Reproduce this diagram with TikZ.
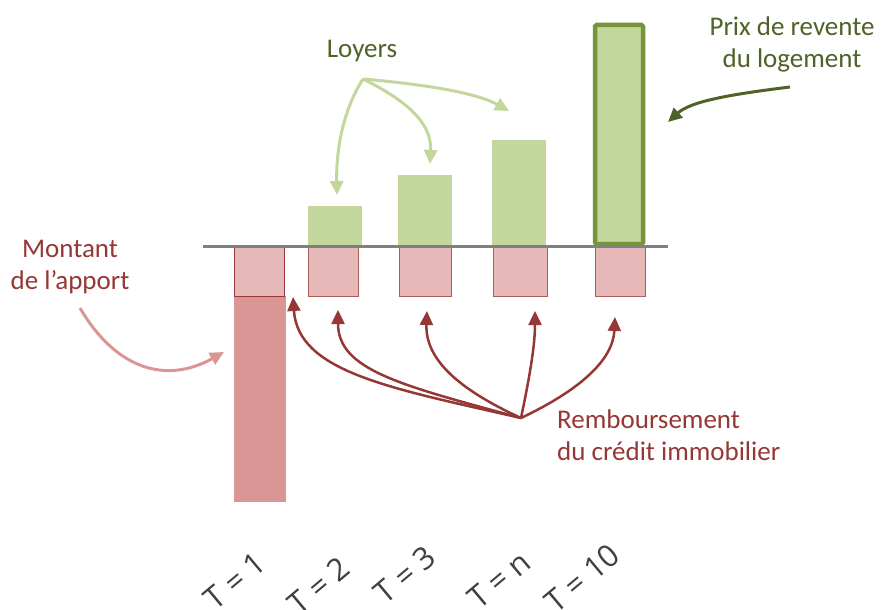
\documentclass[tikz,border=0pt]{standalone}
\usepackage{fontspec}
\setmainfont{Carlito}
\newfontfamily\tfont{Open Sans}
\usetikzlibrary{arrows.meta}
\definecolor{pinklight}{HTML}{E6B9B8}
\definecolor{pinkdark}{HTML}{D99694}
\definecolor{redline}{HTML}{953735}
\definecolor{greenfill}{HTML}{C3D69B}
\definecolor{greenline}{HTML}{77933C}
\definecolor{olive}{HTML}{4F6228}
\definecolor{axisgray}{HTML}{808080}
\definecolor{labgray}{HTML}{404040}
\tikzset{
  paybox/.style={fill=pinklight,draw=redline!80,line width=1pt},
  loyerbar/.style={fill=greenfill,draw=none},
  tip/.style={-{Triangle[length=14pt,width=13pt]}},
  greenarrow/.style={tip,draw=greenfill,line width=3pt},
  redarrow/.style={tip,draw=redline,line width=2.5pt},
  pinkarrow/.style={tip,draw=pinkdark,line width=3pt},
  olivearrow/.style={tip,draw=olive,line width=3pt},
  lab/.style={font=\fontsize{27}{32}\selectfont,inner sep=0pt},
  tlab/.style={font=\tfont\fontsize{31}{36}\selectfont,text=labgray,rotate=40,inner sep=0pt}
}
\begin{document}
\begin{tikzpicture}[x=1pt,y=-1pt]
\useasboundingbox (0,0) rectangle (881,610);
% bars
\fill[pinkdark] (234,296) rectangle (286,502);
\fill[loyerbar] (308,206) rectangle (362,246);
\fill[loyerbar] (398,175) rectangle (452,246);
\fill[loyerbar] (492,140) rectangle (546,246);
\draw[fill=greenfill,draw=greenline,line width=4.5pt,rounded corners=1.5pt] (595,25) rectangle (643,244);
\draw[paybox,draw=redline] (234.5,247) rectangle (284.5,296);
\draw[paybox] (308.5,247) rectangle (358.5,296);
\draw[paybox] (399.5,247) rectangle (451.5,296);
\draw[paybox] (493.5,247) rectangle (547.5,296);
\draw[paybox] (595.5,247) rectangle (645.5,296);
\draw[axisgray,line width=3pt] (203,246.5) -- (668,246.5);
% texts
\node[lab,text=olive] (loyers) at (362,51) {Loyers};
\node[lab,text=olive,align=center] (prix) at (792,44) {Prix de revente\\du logement};
\node[lab,text=redline,align=center] (apport) at (70,267) {Montant\\de l’apport};
\node[lab,text=redline,align=left,anchor=north west] (remb) at (557,410) {Remboursement\\du crédit immobilier};
\node[tlab] (t1) at (235,581) {T = 1};
\node[tlab] (t2) at (319,586) {T = 2};
\node[tlab] (t3) at (405,575) {T = 3};
\node[tlab] (tn) at (499,580) {T = n};
\node[tlab] (t10) at (582,578) {T = 10};
% arrow anchors
\coordinate (gs) at (363,79);
\coordinate (g1) at (337,195);
\coordinate (g2) at (430,164);
\coordinate (g3) at (509,111);
\coordinate (rs) at (521,418);
\coordinate (r1) at (293,297);
\coordinate (r2) at (338,310);
\coordinate (r3) at (427,311);
\coordinate (r4) at (535,311);
\coordinate (r5) at (615,317);
\coordinate (ps) at (80,308);
\coordinate (pe) at (224,352);
\coordinate (os) at (790,87);
\coordinate (oe) at (668,122);
% arrows
\draw[greenarrow] (gs) .. controls (343,110) and (336,150) .. (g1);
\draw[greenarrow] (gs) .. controls (405,100) and (432,122) .. (g2);
\draw[greenarrow] (gs) .. controls (420,84) and (475,92) .. (g3);
\draw[redarrow] (rs) .. controls (390,388) and (298,372) .. (r1);
\draw[redarrow] (rs) .. controls (400,385) and (338,370) .. (r2);
\draw[redarrow] (rs) .. controls (460,390) and (425,360) .. (r3);
\draw[redarrow] (rs) .. controls (530,375) and (535,345) .. (r4);
\draw[redarrow] (rs) .. controls (580,390) and (613,360) .. (r5);
\draw[pinkarrow] (ps) .. controls (115,368) and (165,385) .. (pe);
\draw[olivearrow] (os) .. controls (725,95) and (690,102) .. (oe);
\end{tikzpicture}
\end{document}
